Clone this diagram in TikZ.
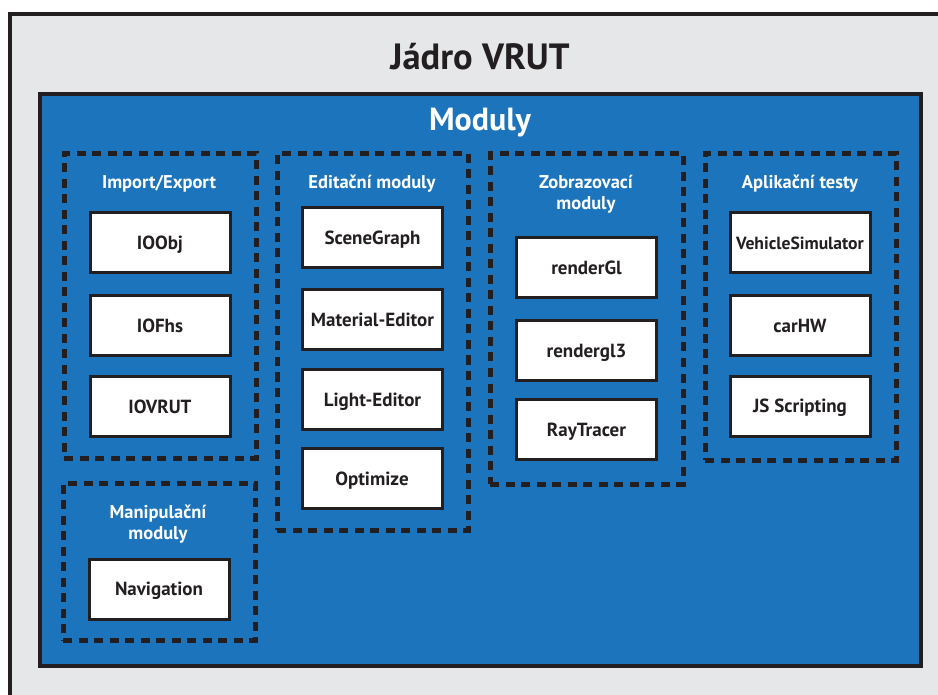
\documentclass[tikz,border=0pt]{standalone}
\usepackage{fontspec}
\setmainfont{PT Sans}
\definecolor{ink}{HTML}{231F20}
\definecolor{coregrey}{HTML}{E6E7E8}
\definecolor{modblue}{HTML}{1C75BC}
\tikzset{
  corebox/.style={draw=ink, line width=4pt, fill=coregrey, rectangle, inner sep=0},
  bluebox/.style={draw=ink, line width=4pt, fill=modblue, rectangle, inner sep=0},
  grp/.style={draw=ink, line width=5pt, dash pattern=on 9pt off 6.5pt, rectangle, inner sep=0, minimum width=192pt},
  mod/.style={draw=ink, line width=3pt, fill=white, rectangle, inner sep=0, minimum width=140pt, minimum height=60pt, text height=13.3pt, text depth=0pt, font=\bfseries\fontsize{19}{22}\selectfont, text=ink},
  grplabel/.style={font=\bfseries\fontsize{18.5}{21}\selectfont, text=white, align=center, inner sep=0},
}
\begin{document}
\begin{tikzpicture}[x=1pt,y=-1pt]
\useasboundingbox (0,0) rectangle (938,695);
\clip (0,0) rectangle (938,695);
\fill[white] (0,0) rectangle (938,695);
\node[corebox, anchor=north west, minimum width=1000pt, minimum height=800pt] (core) at (8,12) {};
\node[font=\bfseries\fontsize{36.5}{40}\selectfont, text=ink, inner sep=0] (coretitle) at (480,57) {Jádro VRUT};
\node[bluebox, minimum width=881pt, minimum height=572pt] (modules) at (480.5,380) {};
\node[font=\bfseries\fontsize{32}{36}\selectfont, text=white, inner sep=0] (modtitle) at (480,123) {Moduly};

% groups
\node[grp, minimum height=304pt] (g1) at (160,306) {};
\node[grp, minimum height=157pt] (g2) at (159,561.5) {};
\node[grp, minimum width=191pt, minimum height=376pt] (g3) at (372.5,342) {};
\node[grp, minimum width=193pt, minimum height=330pt] (g4) at (586.5,319) {};
\node[grp, minimum width=191pt, minimum height=306pt] (g5) at (800.5,307) {};

\node[grplabel] (l1) at (159,184) {Import/Export};
\node[grplabel] (l2) at (158,524) {Manipulační\\moduly};
\node[grplabel] (l3) at (372,184) {Editační moduly};
\node[grplabel] (l4) at (586,194.5) {Zobrazovací\\moduly};
\node[grplabel] (l5) at (800,184) {Aplikační testy};

% modules
\node[mod] (ioobj) at (160,243) {IOObj};
\node[mod] (iofhs) at (160,325.5) {IOFhs};
\node[mod] (iovrut) at (160,406.5) {IOVRUT};
\node[mod] (nav) at (159,589) {Navigation};

\node[mod] (scene) at (372.5,237.5) {SceneGraph};
\node[mod] (mat) at (372.5,319.5) {Material-Editor};
\node[mod] (light) at (372.5,399.5) {Light-Editor};
\node[mod] (opt) at (372,478.5) {Optimize};

\node[mod] (rgl) at (586.5,267.5) {renderGl};
\node[mod] (rgl3) at (586.5,350.5) {rendergl3};
\node[mod] (ray) at (586.5,429.5) {RayTracer};

\node[mod, font=\bfseries\fontsize{17.6}{20}\selectfont, text height=12.3pt] (veh) at (800,243) {VehicleSimulator};
\node[mod] (car) at (800,325.5) {carHW};
\node[mod] (js) at (800,406) {JS Scripting};
\end{tikzpicture}
\end{document}
